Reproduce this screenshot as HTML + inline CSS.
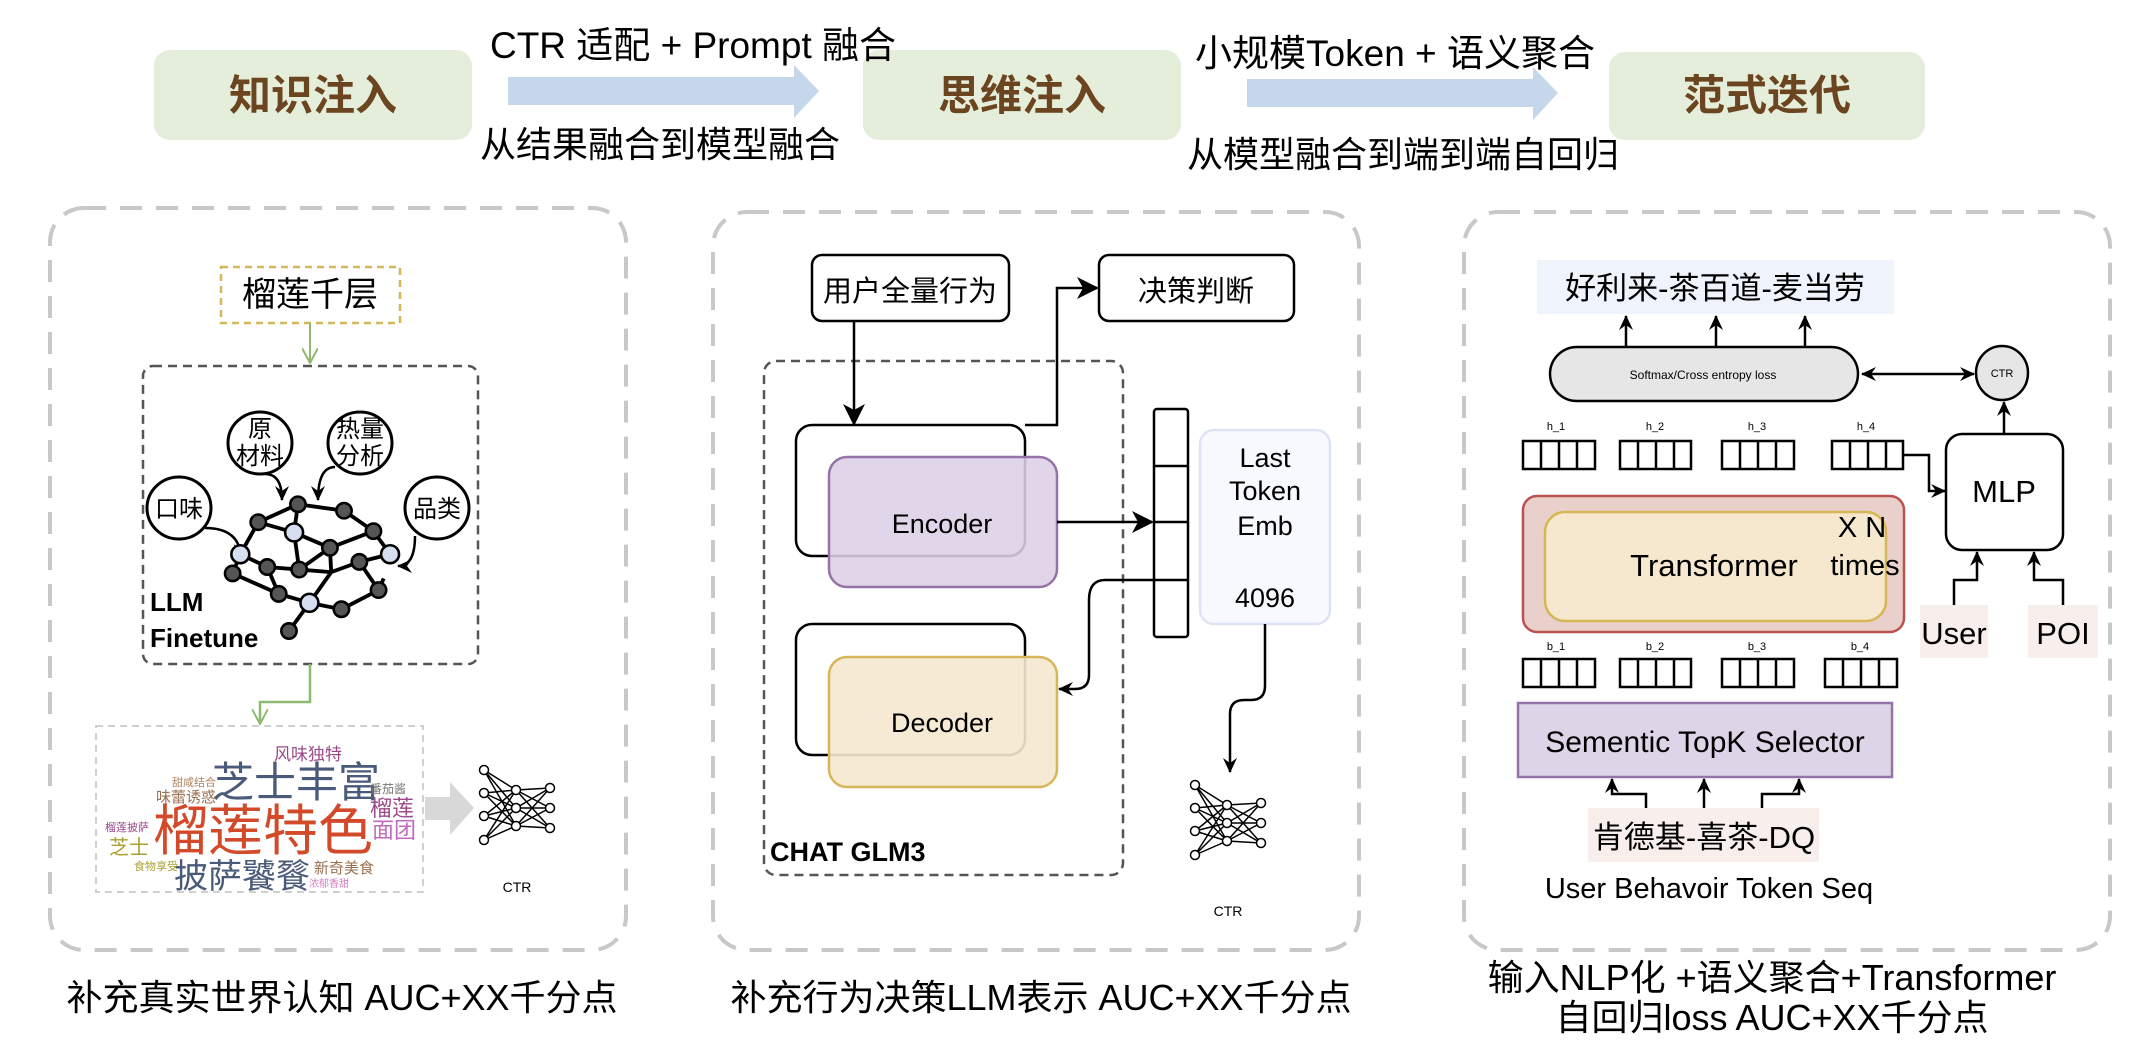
<!DOCTYPE html>
<html><head><meta charset="utf-8"><style>
html,body{margin:0;padding:0;background:#fff;}
svg{display:block;}
text{font-family:"Liberation Sans","Noto Sans CJK SC",sans-serif;}
</style></head><body>
<svg width="2142" height="1040" viewBox="0 0 2142 1040" xmlns="http://www.w3.org/2000/svg">
<defs>
<marker id="ah" markerWidth="10" markerHeight="10" refX="9" refY="5" orient="auto" markerUnits="userSpaceOnUse"><path d="M0,0 L10,5 L0,10 L3,5 z" fill="#000"/></marker>
<marker id="ahL" markerWidth="22" markerHeight="22" refX="20" refY="11" orient="auto" markerUnits="userSpaceOnUse"><path d="M0,0 L22,11 L0,22 L6,11 z" fill="#000"/></marker>
<marker id="ahS" markerWidth="16" markerHeight="16" refX="14" refY="8" orient="auto" markerUnits="userSpaceOnUse"><path d="M0,1 L15,8 L0,15 L5,8 z" fill="#000"/></marker>
<marker id="ahG" markerWidth="16" markerHeight="16" refX="14" refY="8" orient="auto" markerUnits="userSpaceOnUse"><path d="M0,0 L15,8 L0,16" fill="none" stroke="#8fb870" stroke-width="2"/></marker>
<marker id="ahB" markerWidth="16" markerHeight="16" refX="2" refY="8" orient="auto" markerUnits="userSpaceOnUse"><path d="M16,1 L1,8 L16,15 L11,8 z" fill="#000"/></marker>
</defs>

<!-- top row -->
<rect x="154" y="50" width="318" height="90" rx="16" fill="#e5eedb"/>
<text x="313" y="110" font-size="42" font-weight="bold" fill="#6b4420" text-anchor="middle">知识注入</text>
<rect x="863" y="50" width="318" height="90" rx="16" fill="#e5eedb"/>
<text x="1022" y="110" font-size="42" font-weight="bold" fill="#6b4420" text-anchor="middle">思维注入</text>
<rect x="1609" y="52" width="316" height="88" rx="16" fill="#e5eedb"/>
<text x="1767" y="110" font-size="42" font-weight="bold" fill="#6b4420" text-anchor="middle">范式迭代</text>

<polygon points="508,77 794,77 794,65 819,91 794,118 794,105 508,105" fill="#c6d6eb"/>
<polygon points="1247,79 1533,79 1533,67 1558,93 1533,120 1533,107 1247,107" fill="#c6d6eb"/>
<text x="693" y="58" font-size="37" text-anchor="middle" fill="#000">CTR 适配 + Prompt 融合</text>
<text x="660" y="157" font-size="36" text-anchor="middle" fill="#000">从结果融合到模型融合</text>
<text x="1395" y="66" font-size="37" text-anchor="middle" fill="#000">小规模Token + 语义聚合</text>
<text x="1403" y="167" font-size="36" text-anchor="middle" fill="#000">从模型融合到端到端自回归</text>

<!-- panels -->
<rect x="50" y="208" width="576" height="742" rx="34" fill="none" stroke="#c8c8c8" stroke-width="4" stroke-dasharray="22,14"/>
<rect x="713" y="212" width="646" height="738" rx="34" fill="none" stroke="#c8c8c8" stroke-width="4" stroke-dasharray="22,14"/>
<rect x="1464" y="212" width="646" height="738" rx="34" fill="none" stroke="#c8c8c8" stroke-width="4" stroke-dasharray="22,14"/>

<text x="342" y="1010" font-size="36" text-anchor="middle">补充真实世界认知 AUC+XX千分点</text>
<text x="1041" y="1010" font-size="36" text-anchor="middle">补充行为决策LLM表示 AUC+XX千分点</text>
<text x="1772" y="990" font-size="36" text-anchor="middle">输入NLP化 +语义聚合+Transformer</text>
<text x="1772" y="1030" font-size="36" text-anchor="middle">自回归loss AUC+XX千分点</text>

<!-- panel 1 -->
<rect x="221" y="267" width="179" height="56" fill="none" stroke="#d4b75a" stroke-width="2.5" stroke-dasharray="7,5"/>
<text x="310" y="306" font-size="34" text-anchor="middle">榴莲千层</text>
<line x1="310" y1="323" x2="310" y2="362" stroke="#8fb870" stroke-width="2" marker-end="url(#ahG)"/>
<rect x="143" y="366" width="335" height="298" rx="10" fill="none" stroke="#555" stroke-width="2.5" stroke-dasharray="9,6"/>
<g fill="#fff" stroke="#000" stroke-width="3">
<ellipse cx="260" cy="443" rx="32" ry="31"/><ellipse cx="360" cy="443" rx="32" ry="31"/>
<ellipse cx="179" cy="508" rx="32" ry="31"/><ellipse cx="437" cy="508" rx="32" ry="31"/>
</g>
<g font-size="24" text-anchor="middle">
<text x="260" y="437">原</text><text x="260" y="464">材料</text>
<text x="360" y="437">热量</text><text x="360" y="464">分析</text>
<text x="179" y="517">口味</text><text x="437" y="517">品类</text>
</g>
<g fill="none" stroke="#000" stroke-width="2.5">
<path d="M265,474 Q282,474 282,500" marker-end="url(#ahS)"/>
<path d="M335,467 Q318,467 318,500" marker-end="url(#ahS)"/>
<path d="M205,528 Q240,528 241,558" marker-end="url(#ahS)"/>
<path d="M415,536 Q415,566 398,566" marker-end="url(#ahS)"/>
</g>
<!-- network blob -->
<g transform="translate(312,567) scale(1.28) translate(-312,-567)">
<g stroke="#000" stroke-width="3">
<line x1="301" y1="518" x2="270" y2="532"/><line x1="301" y1="518" x2="298" y2="540"/><line x1="301" y1="518" x2="337" y2="523"/>
<line x1="337" y1="523" x2="360" y2="539"/><line x1="270" y1="532" x2="298" y2="540"/><line x1="298" y1="540" x2="326" y2="552"/>
<line x1="326" y1="552" x2="360" y2="539"/><line x1="360" y1="539" x2="373" y2="557"/><line x1="270" y1="532" x2="256" y2="557"/>
<line x1="256" y1="557" x2="277" y2="567"/><line x1="277" y1="567" x2="302" y2="569"/><line x1="302" y1="569" x2="326" y2="552"/>
<line x1="302" y1="569" x2="327" y2="571"/><line x1="327" y1="571" x2="349" y2="563"/><line x1="349" y1="563" x2="373" y2="557"/>
<line x1="349" y1="563" x2="364" y2="585"/><line x1="327" y1="571" x2="310" y2="595"/><line x1="277" y1="567" x2="286" y2="588"/>
<line x1="286" y1="588" x2="310" y2="595"/><line x1="310" y1="595" x2="335" y2="600"/><line x1="335" y1="600" x2="364" y2="585"/>
<line x1="364" y1="585" x2="368" y2="576"/><line x1="310" y1="595" x2="294" y2="617"/><line x1="326" y1="552" x2="327" y2="571"/>
<line x1="298" y1="540" x2="302" y2="569"/><line x1="256" y1="557" x2="250" y2="572"/><line x1="250" y1="572" x2="286" y2="588"/>
</g>
<g fill="#555" stroke="#000" stroke-width="2">
<circle cx="301" cy="518" r="6"/><circle cx="270" cy="532" r="6"/><circle cx="337" cy="523" r="6"/><circle cx="360" cy="539" r="6"/>
<circle cx="326" cy="552" r="6"/><circle cx="277" cy="567" r="6"/><circle cx="302" cy="569" r="6"/><circle cx="349" cy="563" r="6"/>
<circle cx="286" cy="588" r="6"/><circle cx="335" cy="600" r="6"/><circle cx="364" cy="585" r="6"/><circle cx="294" cy="617" r="6"/><circle cx="250" cy="572" r="6"/>
<circle cx="298" cy="540" r="7" fill="#d6dff0"/><circle cx="256" cy="557" r="7" fill="#d6dff0"/><circle cx="373" cy="557" r="7" fill="#d6dff0"/><circle cx="310" cy="595" r="7" fill="#d6dff0"/>
</g>
</g>
<text x="150" y="611" font-size="26" font-weight="bold">LLM</text>
<text x="150" y="647" font-size="26" font-weight="bold">Finetune</text>
<path d="M310,664 L310,702 L260,702 L260,723" fill="none" stroke="#8fb870" stroke-width="2.5" marker-end="url(#ahG)"/>
<rect x="96" y="726" width="327" height="166" fill="none" stroke="#d0d0d0" stroke-width="2" stroke-dasharray="7,5"/>
<g text-anchor="middle">
<text x="308" y="760" font-size="17" fill="#9a4a8a">风味独特</text>
<text x="296" y="797" font-size="42" fill="#4a5a7a">芝士丰富</text>
<text x="263" y="850" font-size="55" fill="#d24a2a">榴莲特色</text>
<text x="242" y="888" font-size="34" fill="#4a5a7a">披萨饕餮</text>
<text x="186" y="802" font-size="15" fill="#9a7050">味蕾诱惑</text>
<text x="194" y="786" font-size="11" fill="#b08060">甜咸结合</text>
<text x="127" y="831" font-size="11" fill="#9a4a8a">榴莲披萨</text>
<text x="129" y="854" font-size="20" fill="#a9a030">芝士</text>
<text x="156" y="870" font-size="11" fill="#a9a030">食物享受</text>
<text x="388" y="793" font-size="12" fill="#777">番茄酱</text>
<text x="392" y="816" font-size="22" fill="#9a4a8a">榴莲</text>
<text x="394" y="838" font-size="22" fill="#c06ac0">面团</text>
<text x="344" y="873" font-size="15" fill="#9a7050">新奇美食</text>
<text x="329" y="887" font-size="10" fill="#d080c0">浓郁香甜</text>
</g>
<polygon points="425,797 450,797 450,782 474,808 450,835 450,820 425,820" fill="#d8d8d8"/>

<g id="nn1" stroke="#000" stroke-width="1.5" fill="#fff">
<g fill="none">
<path d="M484,770 L516,790 M484,770 L516,808 M484,770 L516,826 M484,793 L516,790 M484,793 L516,808 M484,793 L516,826 M484,816 L516,790 M484,816 L516,808 M484,816 L516,826 M484,840 L516,790 M484,840 L516,808 M484,840 L516,826 M516,790 L550,788 M516,790 L550,808 M516,790 L550,828 M516,808 L550,788 M516,808 L550,808 M516,808 L550,828 M516,826 L550,788 M516,826 L550,808 M516,826 L550,828"/>
</g>
<circle cx="484" cy="770" r="4.5"/><circle cx="484" cy="793" r="4.5"/><circle cx="484" cy="816" r="4.5"/><circle cx="484" cy="840" r="4.5"/>
<circle cx="516" cy="790" r="4.5"/><circle cx="516" cy="808" r="4.5"/><circle cx="516" cy="826" r="4.5"/>
<circle cx="550" cy="788" r="4.5"/><circle cx="550" cy="808" r="4.5"/><circle cx="550" cy="828" r="4.5"/>
</g>
<text x="517" y="892" font-size="14" text-anchor="middle">CTR</text>

<!-- panel 2 -->
<rect x="812" y="255" width="197" height="66" rx="10" fill="#fff" stroke="#000" stroke-width="2.5"/>
<text x="910" y="301" font-size="29" text-anchor="middle">用户全量行为</text>
<rect x="1099" y="255" width="195" height="66" rx="10" fill="#fff" stroke="#000" stroke-width="2.5"/>
<text x="1196" y="301" font-size="29" text-anchor="middle">决策判断</text>
<rect x="764" y="361" width="359" height="514" rx="12" fill="none" stroke="#555" stroke-width="2.5" stroke-dasharray="9,6"/>
<text x="770" y="861" font-size="27" font-weight="bold">CHAT GLM3</text>
<line x1="854" y1="321" x2="854" y2="424" stroke="#000" stroke-width="2.5" marker-end="url(#ahL)"/>
<rect x="796" y="425" width="229" height="131" rx="16" fill="none" stroke="#000" stroke-width="2.5"/>
<path d="M1025,425 L1057,425 L1057,288 L1097,288" fill="none" stroke="#000" stroke-width="2.5" marker-end="url(#ahL)"/>
<rect x="829" y="457" width="228" height="130" rx="18" fill="#ddd0e6" fill-opacity="0.88" stroke="#9673a6" stroke-width="2.5"/>
<rect x="796" y="624" width="229" height="131" rx="16" fill="none" stroke="#000" stroke-width="2.5"/>
<rect x="829" y="657" width="228" height="130" rx="18" fill="#f5e8cf" fill-opacity="0.9" stroke="#d6b656" stroke-width="2.5"/>
<text x="942" y="533" font-size="27" text-anchor="middle">Encoder</text>
<text x="942" y="732" font-size="27" text-anchor="middle">Decoder</text>
<line x1="1057" y1="522" x2="1152" y2="522" stroke="#000" stroke-width="2.5" marker-end="url(#ahL)"/>
<rect x="1154" y="409" width="34" height="228" rx="3" fill="#fff" stroke="#000" stroke-width="2.5"/>
<line x1="1154" y1="466" x2="1188" y2="466" stroke="#000" stroke-width="2.5"/>
<line x1="1154" y1="522" x2="1188" y2="522" stroke="#000" stroke-width="2.5"/>
<line x1="1154" y1="580" x2="1188" y2="580" stroke="#000" stroke-width="2.5"/>
<path d="M1154,580 L1105,580 Q1089,580 1089,600 L1089,675 Q1089,689 1075,689 L1059,689" fill="none" stroke="#000" stroke-width="2.5" marker-end="url(#ahS)"/>
<rect x="1200" y="430" width="130" height="194" rx="14" fill="#f7f9fe" stroke="#dde3f5" stroke-width="2.5"/>
<g font-size="27" text-anchor="middle"><text x="1265" y="467">Last</text><text x="1265" y="500">Token</text><text x="1265" y="535">Emb</text><text x="1265" y="607">4096</text></g>
<path d="M1265,624 L1265,686 Q1265,700 1251,700 L1244,700 Q1230,700 1230,714 L1230,772" fill="none" stroke="#000" stroke-width="2.5" marker-end="url(#ahS)"/>
<use href="#nn1" transform="translate(711,15)"/>
<text x="1228" y="916" font-size="14" text-anchor="middle">CTR</text>

<!-- panel 3 -->
<rect x="1537" y="260" width="357" height="54" fill="#eef3fc"/>
<text x="1715" y="299" font-size="31" text-anchor="middle">好利来-茶百道-麦当劳</text>
<g stroke="#000" stroke-width="2.5" marker-end="url(#ahS)">
<line x1="1626" y1="347" x2="1626" y2="316"/><line x1="1716" y1="347" x2="1716" y2="316"/><line x1="1805" y1="347" x2="1805" y2="316"/>
</g>
<rect x="1550" y="347" width="308" height="54" rx="27" fill="#e6e6e6" stroke="#000" stroke-width="2.5"/>
<text x="1703" y="379" font-size="12" text-anchor="middle">Softmax/Cross entropy loss</text>
<line x1="1862" y1="374" x2="1974" y2="374" stroke="#000" stroke-width="2.5" marker-start="url(#ahB)" marker-end="url(#ahS)"/>
<ellipse cx="2002" cy="373" rx="26" ry="27" fill="#e6e6e6" stroke="#000" stroke-width="2.5"/>
<text x="2002" y="377" font-size="11" text-anchor="middle">CTR</text>
<g font-size="11" text-anchor="middle"><text x="1556" y="430">h_1</text><text x="1655" y="430">h_2</text><text x="1757" y="430">h_3</text><text x="1866" y="430">h_4</text>
<text x="1556" y="650">b_1</text><text x="1655" y="650">b_2</text><text x="1757" y="650">b_3</text><text x="1860" y="650">b_4</text></g>
<g fill="#fff" stroke="#000" stroke-width="2.5">
<rect x="1523" y="441" width="72" height="28"/><rect x="1620" y="441" width="71" height="28"/><rect x="1722" y="441" width="72" height="28"/><rect x="1832" y="441" width="71" height="28"/>
<rect x="1523" y="659" width="72" height="28"/><rect x="1620" y="659" width="71" height="28"/><rect x="1722" y="659" width="72" height="28"/><rect x="1825" y="659" width="72" height="28"/>
</g>
<g stroke="#000" stroke-width="2.5">
<path d="M1541,441v28M1559,441v28M1577,441v28M1638,441v28M1656,441v28M1674,441v28M1740,441v28M1758,441v28M1776,441v28M1850,441v28M1868,441v28M1886,441v28"/>
<path d="M1541,659v28M1559,659v28M1577,659v28M1638,659v28M1656,659v28M1674,659v28M1740,659v28M1758,659v28M1776,659v28M1843,659v28M1861,659v28M1879,659v28"/>
</g>
<path d="M1903,455 L1929,455 L1929,491 L1945,491" fill="none" stroke="#000" stroke-width="2.5" marker-end="url(#ahS)"/>
<rect x="1946" y="434" width="117" height="116" rx="16" fill="#fff" stroke="#000" stroke-width="2.5"/>
<text x="2004" y="502" font-size="31" text-anchor="middle">MLP</text>
<line x1="2004" y1="434" x2="2004" y2="402" stroke="#000" stroke-width="2.5" marker-end="url(#ahS)"/>
<rect x="1523" y="496" width="381" height="136" rx="14" fill="#ead0cb" stroke="#b85450" stroke-width="2.5"/>
<rect x="1545" y="512" width="341" height="109" rx="20" fill="#f5e8cf" stroke="#d6b656" stroke-width="2.5"/>
<text x="1714" y="576" font-size="31" text-anchor="middle">Transformer</text>
<text x="1862" y="537" font-size="29" text-anchor="middle">X N</text>
<text x="1865" y="575" font-size="29" text-anchor="middle">times</text>
<rect x="1920" y="605" width="68" height="53" fill="#f8eeec"/>
<rect x="2028" y="605" width="70" height="53" fill="#f8eeec"/>
<text x="1954" y="644" font-size="31" text-anchor="middle">User</text>
<text x="2063" y="644" font-size="31" text-anchor="middle">POI</text>
<path d="M1954,605 L1954,580 L1977,580 L1977,552" fill="none" stroke="#000" stroke-width="2.5" marker-end="url(#ahS)"/>
<path d="M2063,605 L2063,580 L2034,580 L2034,552" fill="none" stroke="#000" stroke-width="2.5" marker-end="url(#ahS)"/>
<rect x="1518" y="703" width="374" height="74" fill="#ded4e8" stroke="#9673a6" stroke-width="2.5"/>
<text x="1705" y="752" font-size="30" text-anchor="middle">Sementic TopK Selector</text>
<rect x="1588" y="808" width="231" height="54" fill="#f8eeec"/>
<text x="1704" y="848" font-size="31" text-anchor="middle">肯德基-喜茶-DQ</text>
<path d="M1646,808 L1646,794 L1612,794 L1612,779" fill="none" stroke="#000" stroke-width="2.5" marker-end="url(#ahS)"/>
<line x1="1704" y1="808" x2="1704" y2="779" stroke="#000" stroke-width="2.5" marker-end="url(#ahS)"/>
<path d="M1762,808 L1762,794 L1799,794 L1799,779" fill="none" stroke="#000" stroke-width="2.5" marker-end="url(#ahS)"/>
<text x="1709" y="898" font-size="29" text-anchor="middle">User Behavoir Token Seq</text>
</svg>
</body></html>
